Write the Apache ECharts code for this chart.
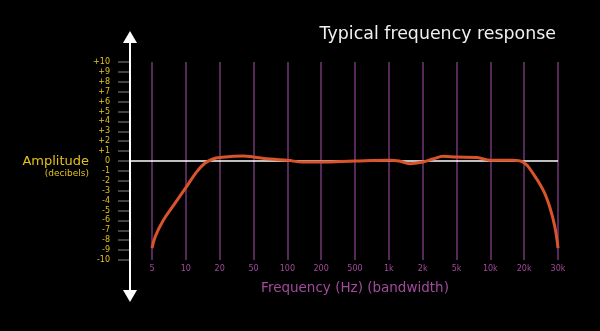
<!DOCTYPE html>
<html>
<head>
<meta charset="utf-8">
<script src="https://cdn.jsdelivr.net/npm/echarts@6/dist/echarts.min.js"></script>
<style>
  html, body { margin: 0; padding: 0; background: #000; }
  #chart { width: 600px; height: 331px; }
</style>
</head>
<body>
<div id="chart"></div>
<script>
// Frequency bands shown as evenly spaced gridlines
const frequencyLabels = ['5', '10', '20', '50', '100', '200', '500', '1k', '2k', '5k', '10k', '20k', '30k'];

// Response curve: position along the band axis (0 = 5 Hz ... 12 = 30 kHz) and gain in dB
const bandPosition = [0, 0.1, 0.33, 0.63, 1.0, 1.32, 1.57, 1.8, 2.0, 2.7, 3.0, 3.5, 4.0, 4.46, 5.0, 6.0, 7.0, 7.3, 7.63, 8.0, 8.3, 8.61, 9.0, 9.6, 10.0, 10.68, 11.0, 11.27, 11.57, 11.76, 11.91, 12.0];
const gainDb       = [-8.8, -7.6, -6.0, -4.5, -2.7, -1.1, -0.2, 0.2, 0.35, 0.5, 0.4, 0.2, 0.07, -0.1, -0.1, 0.0, 0.07, 0.0, -0.27, -0.1, 0.2, 0.47, 0.4, 0.35, 0.07, 0.07, -0.17, -1.3, -3.0, -4.7, -6.7, -8.8];

// Amplitude tick labels from -10 to +10 dB
const amplitudeTicks = [-10, -9, -8, -7, -6, -5, -4, -3, -2, -1, 0, 1, 2, 3, 4, 5, 6, 7, 8, 9, 10];

const FONT = 'DejaVu Sans';
const YELLOW = '#e2c21a';
const PURPLE = '#a24a9c';
const dbMin = amplitudeTicks[0];
const dbMax = amplitudeTicks[amplitudeTicks.length - 1];

const chart = echarts.init(document.getElementById('chart'));

const option = {
  backgroundColor: '#000',
  animation: false,
  title: {
    text: 'Typical frequency response',
    right: 39,
    top: 21,
    textStyle: { color: '#f0f0f0', fontFamily: FONT, fontWeight: 'normal', fontSize: 17.4 }
  },
  grid: [
    // plotting area
    { left: 152, right: 42, top: 62, bottom: 71 },
    // narrow strip carrying the amplitude scale on the arrow axis
    { left: 130, width: 1, top: 62, bottom: 71 }
  ],
  xAxis: [{
    type: 'value',
    gridIndex: 0,
    min: 0,
    max: frequencyLabels.length - 1,
    interval: 1,
    name: 'Frequency (Hz) (bandwidth)',
    nameLocation: 'middle',
    nameGap: 21,
    nameTextStyle: { color: PURPLE, fontFamily: FONT, fontSize: 13.5 },
    axisLine: { show: false },
    axisTick: { show: false },
    axisLabel: {
      color: PURPLE,
      fontFamily: FONT,
      fontSize: 8,
      margin: 5,
      formatter: v => frequencyLabels[Math.round(v)] || ''
    },
    splitLine: { show: true, lineStyle: { color: '#74377a', width: 1.5 } }
  }, {
    type: 'value',
    gridIndex: 1,
    show: false
  }],
  yAxis: [{
    type: 'value',
    gridIndex: 0,
    min: dbMin,
    max: dbMax,
    interval: 1,
    show: false
  }, {
    type: 'value',
    gridIndex: 1,
    min: dbMin,
    max: dbMax,
    interval: 1,
    axisLine: { show: false },
    axisTick: { show: true, inside: false, length: 12, lineStyle: { color: '#5a5a5a', width: 1.5 } },
    axisLabel: {
      color: YELLOW,
      fontFamily: FONT,
      fontSize: 8,
      margin: 20,
      formatter: v => (v > 0 ? '+' + v : String(v))
    },
    splitLine: { show: false }
  }],
  series: [{
    type: 'line',
    xAxisIndex: 0,
    yAxisIndex: 0,
    data: bandPosition.map((p, i) => [p, gainDb[i]]),
    smooth: 0.4,
    showSymbol: false,
    clip: false,
    lineStyle: { color: '#d9542a', width: 3 },
    z: 5
  }]
};

chart.setOption(option);

// Axis decorations: vertical amplitude arrow, zero reference line and side caption
const zeroY = chart.convertToPixel({ yAxisIndex: 0 }, 0);
const topY = chart.convertToPixel({ yAxisIndex: 0 }, dbMax);
const botY = chart.convertToPixel({ yAxisIndex: 0 }, dbMin);
const rightX = chart.convertToPixel({ xAxisIndex: 0 }, frequencyLabels.length - 1);
const axisX = 130;

chart.setOption({
  graphic: [
    { type: 'line', z: 3, shape: { x1: axisX, y1: topY - 19, x2: axisX, y2: botY + 30 }, style: { stroke: '#fff', lineWidth: 2 } },
    { type: 'polygon', z: 3, shape: { points: [[axisX - 7, topY - 19], [axisX + 7, topY - 19], [axisX, topY - 31]] }, style: { fill: '#fff' } },
    { type: 'polygon', z: 3, shape: { points: [[axisX - 7, botY + 30], [axisX + 7, botY + 30], [axisX, botY + 42]] }, style: { fill: '#fff' } },
    { type: 'line', z: 3, shape: { x1: axisX, y1: zeroY, x2: rightX, y2: zeroY }, style: { stroke: '#fff', lineWidth: 1.5 } },
    { type: 'text', z: 3, x: 89, y: zeroY + 1, style: { text: 'Amplitude', fill: YELLOW, font: '13px "DejaVu Sans"', align: 'right', verticalAlign: 'middle' } },
    { type: 'text', z: 3, x: 89, y: zeroY + 13, style: { text: '(decibels)', fill: YELLOW, font: '9px "DejaVu Sans"', align: 'right', verticalAlign: 'middle' } }
  ]
});
</script>
</body>
</html>
